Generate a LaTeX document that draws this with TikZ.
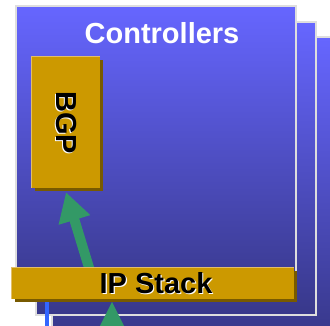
\documentclass[tikz,border=0pt]{standalone}
\usepackage{fontspec}
\setmainfont{Liberation Sans}
\usepackage{graphicx}
\usetikzlibrary{arrows.meta,shadows,backgrounds}
\definecolor{panelTop}{RGB}{102,102,255}
\definecolor{panelBot}{RGB}{56,56,138}
\definecolor{panelEdge}{RGB}{222,222,222}
\definecolor{boxGold}{RGB}{204,153,0}
\definecolor{boxShade}{RGB}{120,90,0}
\definecolor{boxLight}{RGB}{226,190,105}
\definecolor{linkGreen}{RGB}{51,153,102}
\definecolor{linkBlue}{RGB}{51,102,255}
\newcommand{\glowtext}[1]{\rlap{\kern1.2pt\raisebox{-1.2pt}{\color{white}#1}}#1}
\tikzset{
  panel/.style={top color=panelTop, bottom color=panelBot, draw=panelEdge, line width=2pt},
  goldbox/.style={fill=boxGold, inner sep=0pt, font=\fontsize{29}{34}\selectfont\bfseries,
    general shadow={fill=boxShade, shadow xshift=3pt, shadow yshift=-3pt}},
  goldedge/.style={boxLight, line width=1.2pt},
  greenlink/.style={color=linkGreen, line width=10pt, -{Triangle[length=29pt,width=#1]}},
  greenlink/.default=31pt,
}

\begin{document}
\begin{tikzpicture}[x=1pt, y=-1pt]
    \useasboundingbox (0,0) rectangle (330,325);
    \clip (0,0) rectangle (330,325);
% Boxes
    \node[white, font=\fontsize{29}{34}\selectfont\bfseries] (title) at (162,33) {Controllers};
    \node[goldbox, minimum width=68pt, minimum height=131pt] (bgp) at (66,122.5) {\rotatebox{-90}{\glowtext{BGP}}};
    \node[goldbox, minimum width=282pt, minimum height=31pt] (ip) at (153,283.5) {\kern6pt\glowtext{IP Stack}};
    \draw[goldedge] (bgp.south west) |- (bgp.north east);
    \draw[goldedge] (ip.south west) |- (ip.north east);
    \coordinate (bluefoot) at (47,335);
    \coordinate (greenfoot) at (112,355);
    \begin{scope}[on background layer]
% Stacked panels, back to front
    \shade[panel] (52,37) rectangle (345,335);
    \shade[panel] (36,22) rectangle (316,315);
    \shade[panel] (16,6) rectangle (296,300);
% Links
    \draw[linkBlue, line width=4pt] ([xshift=-106pt]ip.south) -- (bluefoot);
    \draw[greenlink=26pt] (greenfoot) -- ([xshift=-41pt,yshift=-2pt]ip.south);
    \draw[greenlink] ([xshift=-61.5pt,yshift=-8pt]ip.north) -- ([yshift=-4pt]bgp.south);
    \end{scope}
\end{tikzpicture}
\end{document}
